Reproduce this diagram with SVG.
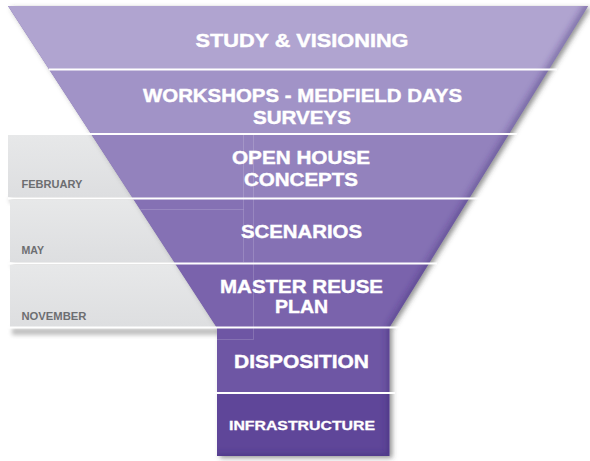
<svg xmlns="http://www.w3.org/2000/svg" width="590" height="461" viewBox="0 0 590 461">
<defs>
<style>
.t{font-family:"Liberation Sans",Arial,sans-serif;font-weight:bold;fill:#ffffff;stroke:#ffffff;stroke-width:0.4;text-anchor:middle;font-size:17.5px}
.s{font-size:12.5px;stroke-width:0.3}
.g{font-family:"Liberation Sans",Arial,sans-serif;font-weight:bold;fill:#6d6e71;font-size:10.5px}
.sep{stroke:#ffffff;stroke-width:2;fill:none}
.faint{stroke:#ffffff;stroke-opacity:0.16;stroke-width:1;fill:none}
.box{fill:url(#gray)}
.bsh{fill:#8a8a8a;opacity:0.55;filter:url(#blur)}
</style>
<filter id="ds" x="-10%" y="-10%" width="130%" height="130%"><feDropShadow dx="3" dy="2" stdDeviation="2.5" flood-color="#404040" flood-opacity="0.55"/></filter>
<filter id="blur" x="-10%" y="-50%" width="120%" height="200%"><feGaussianBlur stdDeviation="2.2"/></filter>
<filter id="eb" x="-10%" y="-10%" width="120%" height="120%"><feGaussianBlur stdDeviation="3"/></filter>
<linearGradient id="gray" x1="0" y1="0" x2="0" y2="1"><stop offset="0" stop-color="#e7e8e9"/><stop offset="1" stop-color="#dddee0"/></linearGradient>
<clipPath id="fc"><path d="M8,6 L588,6 L389.3,327.5 L389.3,456 L217,456 L217,327.5 Z"/></clipPath>
</defs>
<rect width="590" height="461" fill="#ffffff"/>
<g id="months">
<g id="february">
<rect class="bsh" x="10" y="197" width="243" height="6"/>
<rect class="box" x="8" y="135" width="245" height="62"/>
<text class="g" x="21.5" y="187.5" textLength="61" lengthAdjust="spacingAndGlyphs">FEBRUARY</text>
</g>
<g id="may">
<rect class="bsh" x="12" y="262" width="241" height="6"/>
<rect class="box" x="10" y="200" width="243" height="62"/>
<text class="g" x="21.5" y="254" textLength="22.5" lengthAdjust="spacingAndGlyphs">MAY</text>
</g>
<g id="november">
<rect class="bsh" x="12" y="328" width="241" height="7"/>
<rect class="box" x="10" y="265" width="243" height="63"/>
<text class="g" x="21.5" y="320" textLength="65" lengthAdjust="spacingAndGlyphs">NOVEMBER</text>
</g>
</g>
<path d="M8,6 L588,6 L389.3,327.5 L389.3,456 L217,456 L217,327.5 Z" fill="#7a63ac" filter="url(#ds)"/>
<g id="stages">
<g id="study-visioning">
<path d="M8,6 L588,6 L548.8,69.5 L49.2,69.5 Z" fill="#b0a4d0"/>
<text class="t" x="302" y="47" textLength="213" lengthAdjust="spacingAndGlyphs">STUDY &amp; VISIONING</text>
</g>
<g id="workshops">
<path d="M49.2,69.5 L548.8,69.5 L508.9,134 L91.1,134 Z" fill="#a193c7"/>
<text class="t" x="302.5" y="102" textLength="319" lengthAdjust="spacingAndGlyphs">WORKSHOPS - MEDFIELD DAYS</text>
<text class="t" x="302" y="123.5" textLength="98" lengthAdjust="spacingAndGlyphs">SURVEYS</text>
</g>
<g id="open-house">
<path d="M91.1,134 L508.9,134 L469.3,198 L132.6,198 Z" fill="#9382bd"/>
<text class="t" x="301" y="164" textLength="138" lengthAdjust="spacingAndGlyphs">OPEN HOUSE</text>
<text class="t" x="301" y="186" textLength="114" lengthAdjust="spacingAndGlyphs">CONCEPTS</text>
</g>
<g id="scenarios">
<path d="M132.6,198 L469.3,198 L429.2,263 L174.8,263 Z" fill="#8571b4"/>
<text class="t" x="301.5" y="238" textLength="121" lengthAdjust="spacingAndGlyphs">SCENARIOS</text>
</g>
<g id="master-reuse-plan">
<path d="M174.8,263 L429.2,263 L389.3,327.5 L216.7,327.5 Z" fill="#7a63ac"/>
<text class="t" x="301.5" y="292.5" textLength="163" lengthAdjust="spacingAndGlyphs">MASTER REUSE</text>
<text class="t" x="301.5" y="313" textLength="53" lengthAdjust="spacingAndGlyphs">PLAN</text>
</g>
<g id="disposition">
<rect x="217" y="327.5" width="172.3" height="65.5" fill="#6e56a4"/>
<text class="t" x="301.5" y="367.5" textLength="135" lengthAdjust="spacingAndGlyphs">DISPOSITION</text>
</g>
<g id="infrastructure">
<rect x="217" y="393" width="172.3" height="63" fill="#5f4699"/>
<text class="t s" x="302" y="429.5" textLength="146" lengthAdjust="spacingAndGlyphs">INFRASTRUCTURE</text>
</g>
</g>
<g id="shading" clip-path="url(#fc)">
<path d="M590,4 L391,327.5 L391,458 L215,458" fill="none" stroke="#3a2670" stroke-width="9" stroke-opacity="0.4" filter="url(#eb)"/>
<path d="M0,5 L600,5" stroke="#ffffff" stroke-width="6" stroke-opacity="0.3" filter="url(#eb)"/>
<path class="faint" d="M243.5,135 V262 M253.5,135 V339.5 M139,209.5 H243.5 M217,339.5 H253.5"/>
</g>
<g id="separators">
<path class="sep" d="M49,69.5 H557 M8,134 H517 M8,198.5 H483 M8,263.5 H437 M8,327.5 H400 M213,393 H395"/>
</g>
<g id="connectors"/>
</svg>
